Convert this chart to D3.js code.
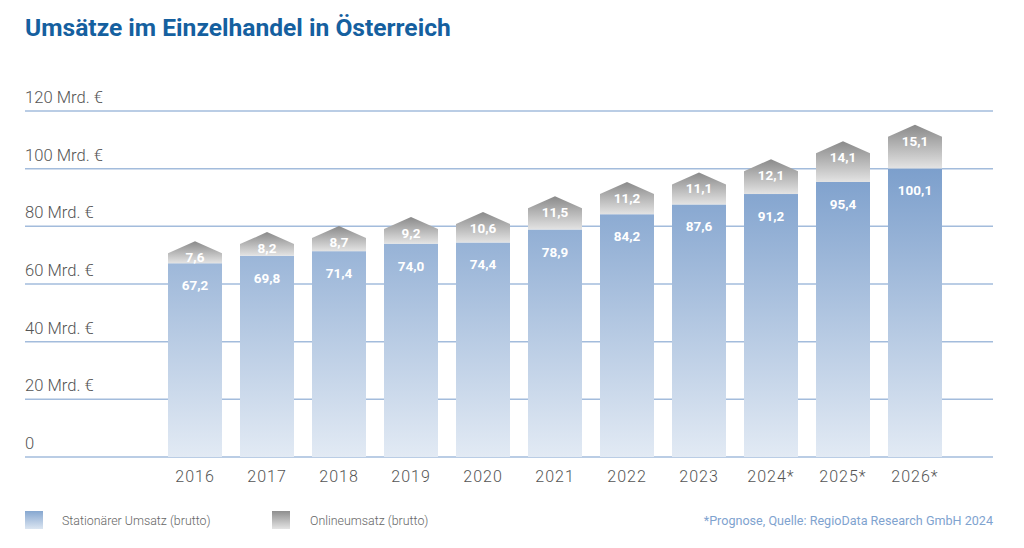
<!DOCTYPE html>
<html><head><meta charset="utf-8">
<script src="https://cdn.jsdelivr.net/npm/d3@7"></script>
<style>body{margin:0;background:#fff}svg{display:block}</style>
</head><body>
<svg id="c" width="1024" height="548"></svg>
<script>
const years = ["2016","2017","2018","2019","2020","2021","2022","2023","2024*","2025*","2026*"];
const stationaer = [67.2,69.8,71.4,74.0,74.4,78.9,84.2,87.6,91.2,95.4,100.1];
const online = [7.6,8.2,8.7,9.2,10.6,11.5,11.2,11.1,12.1,14.1,15.1];
const yTicks = [0,20,40,60,80,100,120];
const yTickLabels = ["0","20 Mrd. €","40 Mrd. €","60 Mrd. €","80 Mrd. €","100 Mrd. €","120 Mrd. €"];

const svg = d3.select("#c");
const fmt = v => v.toFixed(1).replace(".", ",");
const font = "Roboto, 'Open Sans', sans-serif";

const defs = svg.append("defs");
const gb = defs.append("linearGradient").attr("id","gBlue").attr("x1",0).attr("x2",0).attr("gradientUnits","userSpaceOnUse")
  .attr("y1",168).attr("y2",457);
gb.append("stop").attr("offset",0).attr("stop-color","#7c9fcc");
gb.append("stop").attr("offset",1).attr("stop-color","#e2eaf4");
const gg = defs.append("linearGradient").attr("id","gGray").attr("x1",0).attr("y1",0).attr("x2",0).attr("y2",1);
gg.append("stop").attr("offset",0).attr("stop-color","#8a8a8a");
gg.append("stop").attr("offset",1).attr("stop-color","#e3e3e3");
const lb = defs.append("linearGradient").attr("id","lBlue").attr("x1",0).attr("y1",0).attr("x2",0).attr("y2",1);
lb.append("stop").attr("offset",0).attr("stop-color","#86a7d0");
lb.append("stop").attr("offset",1).attr("stop-color","#dbe5f1");
const lg = defs.append("linearGradient").attr("id","lGray").attr("x1",0).attr("y1",0).attr("x2",0).attr("y2",1);
lg.append("stop").attr("offset",0).attr("stop-color","#8e8e8e");
lg.append("stop").attr("offset",1).attr("stop-color","#e4e4e4");

const x = d3.scaleBand().domain(years).range([159, 951]).paddingInner(0.25).paddingOuter(0.125);
const y = d3.scaleLinear().domain([0,120]).range([457,111]);

// title
svg.append("text").attr("x",25).attr("y",36).attr("fill","#15609f")
  .attr("font-family",font).attr("font-weight",700).attr("font-size",24.6)
  .text("Umsätze im Einzelhandel in Österreich");

// grid
const g = svg.append("g");
g.selectAll("line").data(yTicks).join("line")
  .attr("x1",25).attr("x2",993).attr("y1",d=>y(d)).attr("y2",d=>y(d))
  .attr("stroke","#a3bcdc").attr("stroke-width",1.5);
g.selectAll("text").data(yTicks).join("text")
  .attr("x",25).attr("y",d=>y(d)-8).attr("fill","#555")
  .attr("font-family",font).attr("font-size",16.6).attr("font-weight",300)
  .text((d,i)=>yTickLabels[i]);

// bars
const roof = 12;
const bars = svg.append("g");
years.forEach((yr,i)=>{
  const x0 = x(yr), w = x.bandwidth(), cx = x0 + w/2;
  const sTop = y(stationaer[i]);
  const tTop = y(stationaer[i]+online[i]);
  bars.append("rect").attr("x",x0).attr("y",sTop).attr("width",w).attr("height",y(0)-sTop)
    .attr("fill","url(#gBlue)");
  const p = d3.path();
  p.moveTo(x0,sTop); p.lineTo(x0,tTop+roof); p.lineTo(cx,tTop); p.lineTo(x0+w,tTop+roof); p.lineTo(x0+w,sTop); p.closePath();
  bars.append("path").attr("d",p.toString()).attr("fill","url(#gGray)");
  bars.append("text").attr("x",cx).attr("y",sTop+27).attr("text-anchor","middle")
    .attr("fill","#fff").attr("font-family",font).attr("font-weight",700).attr("font-size",13.5)
    .text(fmt(stationaer[i]));
  bars.append("text").attr("x",cx).attr("y",tTop+21).attr("text-anchor","middle")
    .attr("fill","#fff").attr("font-family",font).attr("font-weight",700).attr("font-size",13.5)
    .text(fmt(online[i]));
});

// x axis labels
const xa = d3.axisBottom(x).tickSize(0).tickPadding(0);
const xg = svg.append("g").attr("transform","translate(0,482)").call(xa);
xg.select(".domain").remove();
xg.selectAll("text").attr("dy",0).attr("fill","#555").attr("font-family",font).attr("font-size",16)
  .attr("font-weight",300).attr("letter-spacing",1);

// legend
svg.append("rect").attr("x",25).attr("y",511).attr("width",18).attr("height",18).attr("fill","url(#lBlue)");
svg.append("text").attr("x",62).attr("y",525).attr("fill","#666").attr("font-family",font).attr("font-size",12.4).attr("font-weight",300)
  .text("Stationärer Umsatz (brutto)");
svg.append("rect").attr("x",272).attr("y",511).attr("width",18).attr("height",18).attr("fill","url(#lGray)");
svg.append("text").attr("x",310).attr("y",525).attr("fill","#666").attr("font-family",font).attr("font-size",12.4).attr("font-weight",300)
  .text("Onlineumsatz (brutto)");

svg.append("text").attr("x",993).attr("y",525).attr("text-anchor","end").attr("fill","#7fa3cf")
  .attr("font-family",font).attr("font-size",12.6).attr("font-weight",400)
  .text("*Prognose, Quelle: RegioData Research GmbH 2024");
</script>
</body></html>
